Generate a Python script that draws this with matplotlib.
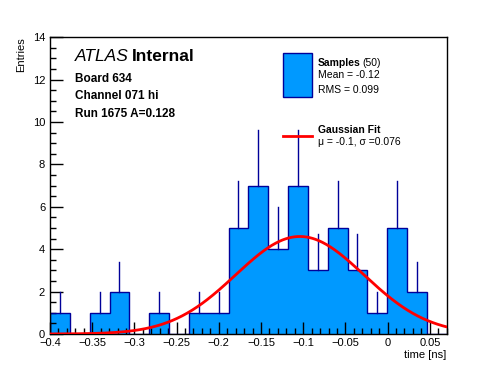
import numpy as np
import matplotlib
matplotlib.use("Agg")
import matplotlib.pyplot as plt
from matplotlib.ticker import MultipleLocator

plt.rcParams["font.family"] = ["Liberation Sans", "DejaVu Sans"]

# histogram: 20 bins from -0.4 to 0.07 ns
x_lo, x_hi, n_bins = -0.4, 0.07, 20
counts = [1, 0, 1, 2, 0, 1, 0, 1, 1, 5, 7, 4, 7, 3, 5, 3, 1, 5, 2, 0]

# gaussian fit parameters
fit_amp = 4.6
fit_mu = -0.104
fit_sigma = 0.076

fill_col = "#0099ff"
edge_col = "#000099"

fig = plt.figure(figsize=(4.96, 3.72), dpi=100)
ax = fig.add_axes([0.1008, 0.1022, 0.7998, 0.7976])

edges = np.linspace(x_lo, x_hi, n_bins + 1)
counts = np.array(counts)
ax.stairs(counts, edges, fill=True, color=fill_col, zorder=1)
ax.stairs(counts, edges, color=edge_col, lw=1.0, zorder=2)

# upper error bars (sqrt N)
centers = 0.5 * (edges[:-1] + edges[1:])
for c, n in zip(centers, counts):
    if n > 0:
        ax.plot([c, c], [n, n + np.sqrt(n)], color=edge_col, lw=1.0, zorder=2)

xs = np.linspace(x_lo, x_hi, 400)
ax.plot(xs, fit_amp * np.exp(-0.5 * ((xs - fit_mu) / fit_sigma) ** 2),
        color="red", lw=2.0, zorder=3)

ax.set_xlim(x_lo, x_hi)
ax.set_ylim(0, 14)
ax.xaxis.set_major_locator(MultipleLocator(0.05))
ax.xaxis.set_minor_locator(MultipleLocator(0.01))
ax.yaxis.set_major_locator(MultipleLocator(2))
ax.yaxis.set_minor_locator(MultipleLocator(0.5))
ax.tick_params(which="both", direction="in", labelsize=8, top=False, right=False)
ax.tick_params(which="major", length=9, width=1)
ax.tick_params(which="minor", length=4.5, width=1)
ax.tick_params(axis="x", pad=3)
ax.xaxis.set_major_formatter(plt.FuncFormatter(
    lambda v, p: "0" if abs(v) < 1e-9 else ("%g" % round(v, 3)).replace("-", "\u2212")))
for s in ax.spines.values():
    s.set_linewidth(1.0)

ax.set_xlabel("time [ns]", fontsize=8, loc="right", labelpad=1)
ax.set_ylabel("Entries", fontsize=8, loc="top", labelpad=5)

tr = ax.transAxes
def px(x, y):
    return ((x - 50) / 396.7, (334 - y) / 296.7)

# ATLAS label block
ax.text(*px(75, 61.5), "ATLAS", transform=tr, fontsize=12.5, style="italic",
        va="baseline", ha="left")
ax.text(*px(132, 61.5), "Internal", transform=tr, fontsize=12.5,
        fontweight="bold", va="baseline", ha="left")
for y, s in [(81.7, "Board 634"), (99.2, "Channel 071 hi"), (116.7, "Run 1675 A=0.128")]:
    ax.text(*px(75, y), s, transform=tr, fontsize=8.5, fontweight="bold",
            va="baseline", ha="left")

# legend
box_x0, box_x1 = 283.3, 311.7
x0, y0 = px(box_x0, 96.7)
x1, y1 = px(box_x1, 53.3)
ax.add_patch(plt.Rectangle((x0, y0), x1 - x0, y1 - y0, transform=tr,
                           facecolor=fill_col, edgecolor=edge_col, lw=1.0, zorder=4))
lx0, ly = px(box_x0, 136)
lx1, _ = px(box_x1, 136)
ax.plot([lx0, lx1], [ly, ly], transform=tr, color="red", lw=2.0, zorder=4)

ax.text(*px(317.7, 66), "Samples", transform=tr, fontsize=7.5,
        fontweight="bold", va="baseline", ha="left")
ax.text(*px(362, 66), "(50)", transform=tr, fontsize=7.5, va="baseline", ha="left")
ax.text(*px(317.7, 78.5), "Mean = -0.12", transform=tr, fontsize=7.5,
        va="baseline", ha="left")
ax.text(*px(317.7, 93.3), "RMS = 0.099", transform=tr, fontsize=7.5,
        va="baseline", ha="left")
ax.text(*px(317.7, 133.3), "Gaussian Fit", transform=tr, fontsize=7.5,
        fontweight="bold", va="baseline", ha="left")
ax.text(*px(317.7, 145.5), "\u03bc = -0.1, \u03c3 =0.076", transform=tr,
        fontsize=7.5, va="baseline", ha="left")

fig.savefig("out.png", dpi=100)
